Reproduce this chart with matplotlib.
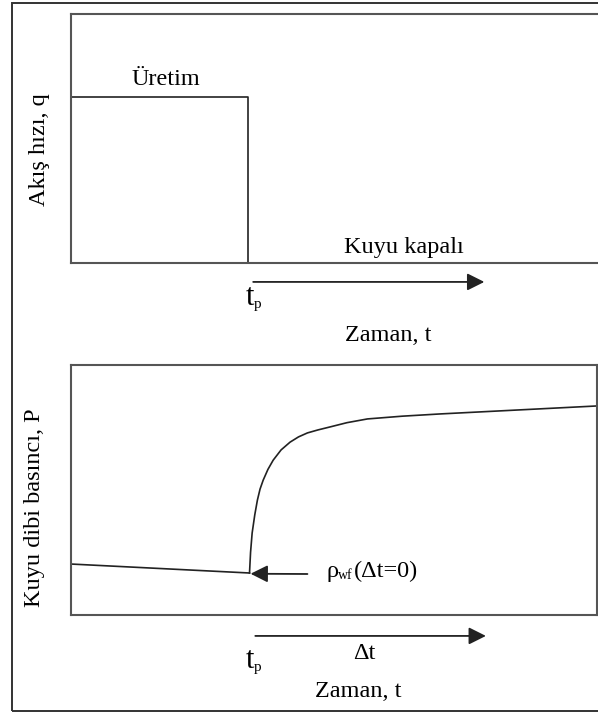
import matplotlib
matplotlib.use("Agg")
import matplotlib.pyplot as plt
from matplotlib.patches import Rectangle
from matplotlib.transforms import blended_transform_factory

plt.rcParams['font.family'] = ['Liberation Serif', 'DejaVu Serif']

# data (arbitrary units)
tp = 3.38
q_prod = 1.0
rate_t = [0, tp, tp]
rate_q = [q_prod, q_prod, 0]

draw_t = [0.0, 3.40]
draw_p = [20.3, 16.7]
build_t = [3.40, 3.42, 3.45, 3.50, 3.55, 3.60, 3.66, 3.75, 3.85, 4.00, 4.17, 4.33, 4.50, 4.70,
           4.93, 5.25, 5.64, 6.30, 7.02, 10.0]
build_p = [16.7, 25.0, 32.7, 40.0, 45.9, 50.3, 53.9, 58.2, 61.9, 66.0, 69.1, 71.2, 72.8, 74.0,
           75.2, 76.9, 78.4, 79.5, 80.4, 83.6]

W, H = 598, 713
fig = plt.figure(figsize=(W / 100, H / 100), dpi=100)

def fx(px):
    return px / W

def fy(py):
    return 1 - py / H

# outer frame
fig.add_artist(Rectangle((fx(12), fy(711)), 1.2, fy(3) - fy(711), transform=fig.transFigure,
                         fill=False, lw=1.4, ec='#333333'))

spine_c = '#555555'
line_c = '#222222'
fs = 17.5

# top panel: flow rate
ax1 = fig.add_axes([fx(70.5), fy(263), fx(612) - fx(70.5), fy(14) - fy(263)])
ax1.plot(rate_t, rate_q, color=line_c, lw=1.2)
ax1.set_xlim(0, 10 * (612 - 70.5) / (597 - 70.5))
ax1.set_ylim(0, 1.5)

# bottom panel: bottomhole pressure
ax2 = fig.add_axes([fx(70.5), fy(614.7), fx(597) - fx(70.5), fy(365) - fy(614.7)])
ax2.plot(draw_t, draw_p, color=line_c, lw=1.2)
ax2.plot(build_t, build_p, color=line_c, lw=1.2)
ax2.set_xlim(0, 10)
ax2.set_ylim(0, 100)

for ax in (ax1, ax2):
    ax.set_xticks([])
    ax.set_yticks([])
    for s in ax.spines.values():
        s.set_color(spine_c)
        s.set_linewidth(1.5)

arrow = dict(arrowstyle='-|>', mutation_scale=26, lw=1.3, color=line_c, shrinkA=0, shrinkB=0)

tr1 = blended_transform_factory(ax1.transData, ax1.transAxes)
ax1.annotate('', xy=(7.86, -0.076), xytext=(3.47, -0.076), xycoords=tr1, textcoords=tr1,
             arrowprops=arrow, annotation_clip=False)
tr2 = blended_transform_factory(ax2.transData, ax2.transAxes)
ax2.annotate('', xy=(7.89, -0.085), xytext=(3.51, -0.085), xycoords=tr2, textcoords=tr2,
             arrowprops=arrow, annotation_clip=False)
ax2.annotate('', xy=(3.42, 16.4), xytext=(4.50, 16.3), arrowprops=arrow)

# labels
fig.text(fx(132), fy(85), 'Üretim', fontsize=fs, ha='left', va='baseline')
fig.text(fx(344), fy(253), 'Kuyu kapalı', fontsize=fs, ha='left', va='baseline')
fig.text(fx(345), fy(341), 'Zaman, t', fontsize=fs, ha='left', va='baseline')
fig.text(fx(315), fy(697), 'Zaman, t', fontsize=fs, ha='left', va='baseline')
fig.text(fx(353), fy(659), 'Δt', fontsize=fs, ha='left', va='baseline')

for base in (305, 668):
    fig.text(fx(246), fy(base), 't', fontsize=22, ha='left', va='baseline')
    fig.text(fx(254), fy(base + 3), 'p', fontsize=11, ha='left', va='baseline')

fig.text(fx(326), fy(577), 'ρ', fontsize=fs, ha='left', va='baseline')
fig.text(fx(338), fy(579), 'wf', fontsize=10, ha='left', va='baseline')
fig.text(fx(354), fy(577), '(Δt=0)', fontsize=fs, ha='left', va='baseline')

fig.text(fx(39), fy(150), 'Akış hızı, q', fontsize=fs, rotation=90, ha='center', va='center')
fig.text(fx(35), fy(508), 'Kuyu dibi basıncı, P', fontsize=fs, rotation=90, ha='center', va='center')

fig.savefig('out.png', dpi=100)
